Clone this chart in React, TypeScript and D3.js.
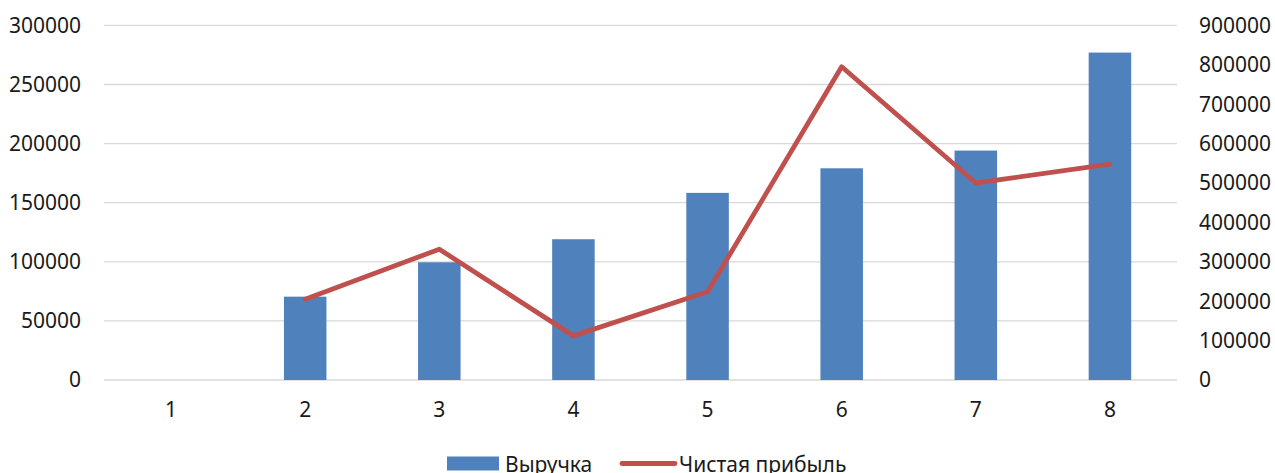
import React, { useEffect, useRef } from 'react';
import * as d3 from 'd3';

const categories = ["1", "2", "3", "4", "5", "6", "7", "8"];
const revenue: (number | null)[] = [null, 70500, 99600, 119100, 158300, 179100, 194100, 277000];
const netProfit: (number | null)[] = [null, 205000, 332000, 112000, 224000, 795000, 500000, 548000];
const leftTicks = [0, 50000, 100000, 150000, 200000, 250000, 300000];
const rightTicks = [0, 100000, 200000, 300000, 400000, 500000, 600000, 700000, 800000, 900000];
const seriesNames = ["Выручка", "Чистая прибыль"];

const App = () => {
  const svgRef = useRef<SVGSVGElement>(null);

  useEffect(() => {
    const W = 1275, H = 473;
    const left = 104, right = 1177, top = 25.4, bottom = 380;
    const font = "'Noto Sans', 'Open Sans', sans-serif";

    const svg = d3.select(svgRef.current);
    svg.selectAll("*").remove();
    svg.attr("width", W).attr("height", H);

    const x = d3.scaleBand().domain(categories).range([left, right]).padding(0);
    const yL = d3.scaleLinear().domain([0, 300000]).range([bottom, top]);
    const yR = d3.scaleLinear().domain([0, 900000]).range([bottom, top]);

    // gridlines
    svg.append("g")
      .selectAll("line")
      .data(leftTicks)
      .enter().append("line")
      .attr("x1", left).attr("x2", right)
      .attr("y1", d => yL(d)).attr("y2", d => yL(d))
      .attr("stroke", "#d9d9d9").attr("stroke-width", 1.3);

    // left axis labels
    svg.append("g")
      .selectAll("text")
      .data(leftTicks)
      .enter().append("text")
      .attr("x", 81).attr("y", d => yL(d))
      .attr("dy", "0.35em")
      .attr("text-anchor", "end")
      .style("font-family", font).style("font-size", "21px").attr("fill", "#1a1a1a")
      .text(d => String(d));

    // right axis labels
    svg.append("g")
      .selectAll("text")
      .data(rightTicks)
      .enter().append("text")
      .attr("x", 1199).attr("y", d => yR(d))
      .attr("dy", "0.35em")
      .attr("text-anchor", "start")
      .style("font-family", font).style("font-size", "21px").attr("fill", "#1a1a1a")
      .text(d => String(d));

    // category labels
    svg.append("g")
      .selectAll("text")
      .data(categories)
      .enter().append("text")
      .attr("x", d => x(d)! + x.bandwidth() / 2).attr("y", 410)
      .attr("dy", "0.35em")
      .attr("text-anchor", "middle")
      .style("font-family", font).style("font-size", "21px").attr("fill", "#1a1a1a")
      .text(d => d);

    // bars
    const bw = x.bandwidth() * 0.317;
    svg.append("g")
      .selectAll("rect")
      .data(categories.map((c, i) => ({ c, v: revenue[i] })).filter(d => d.v != null))
      .enter().append("rect")
      .attr("x", d => x(d.c)! + x.bandwidth() / 2 - bw / 2)
      .attr("y", d => yL(d.v as number))
      .attr("width", bw)
      .attr("height", d => bottom - yL(d.v as number))
      .attr("fill", "#4f81bd");

    // line
    const pts = categories.map((c, i) => ({ c, v: netProfit[i] })).filter(d => d.v != null);
    const line = d3.line<{ c: string; v: number | null }>()
      .x(d => x(d.c)! + x.bandwidth() / 2)
      .y(d => yR(d.v as number));
    svg.append("path")
      .datum(pts)
      .attr("d", line)
      .attr("fill", "none")
      .attr("stroke", "#c0504d")
      .attr("stroke-width", 4.8)
      .attr("stroke-linejoin", "round")
      .attr("stroke-linecap", "round");

    // legend
    const lg = svg.append("g");
    lg.append("rect").attr("x", 447).attr("y", 456.5).attr("width", 52).attr("height", 14).attr("fill", "#4f81bd");
    lg.append("text").attr("x", 505).attr("y", 465).attr("dy", "0.35em")
      .style("font-family", font).style("font-size", "21px").attr("fill", "#1a1a1a")
      .text(seriesNames[0]);
    lg.append("line").attr("x1", 622).attr("x2", 675).attr("y1", 463.5).attr("y2", 463.5)
      .attr("stroke", "#c0504d").attr("stroke-width", 4.8).attr("stroke-linecap", "round");
    lg.append("text").attr("x", 679).attr("y", 465).attr("dy", "0.35em")
      .style("font-family", font).style("font-size", "21px").attr("fill", "#1a1a1a")
      .text(seriesNames[1]);
  }, []);

  return (
    <div style={{ position: "absolute", left: 0, top: 0, width: 1275, height: 473, background: "#fff", overflow: "hidden" }}>
      <svg ref={svgRef} style={{ display: "block" }}></svg>
    </div>
  );
};

export default App;
